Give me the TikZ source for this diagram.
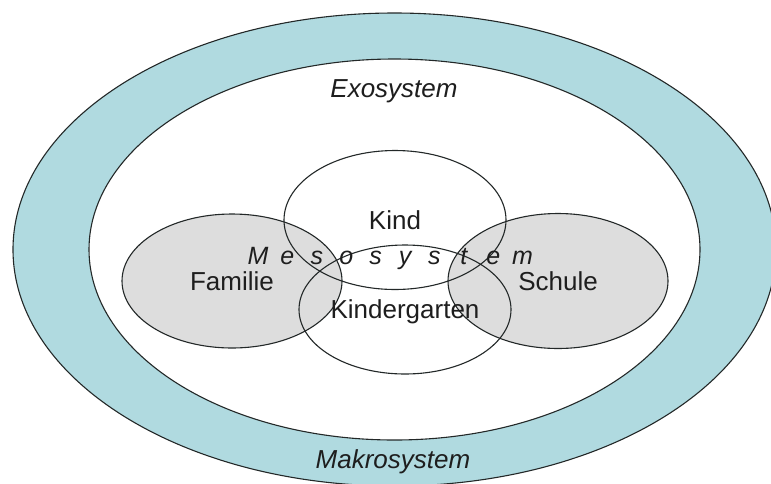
\documentclass[tikz,border=0pt]{standalone}
\usepackage{fontspec}
\setmainfont{Liberation Sans}
\usepackage{tikz}
\usepackage{xcolor}
\usetikzlibrary{shapes.geometric}

\definecolor{ringblue}{RGB}{176,218,224}
\definecolor{setgrey}{RGB}{221,221,221}
\definecolor{linegrey}{RGB}{35,40,40}
\definecolor{textgrey}{RGB}{30,30,30}

\begin{document}
\begin{tikzpicture}[
            x=1pt, y=-1pt,
            system/.style={ellipse, draw=linegrey, line width=1.1pt, inner sep=0pt},
            setbox/.style={ellipse, draw=linegrey, line width=1.1pt, inner sep=0pt, text depth=0pt, text=textgrey, font=\fontsize{26}{30}\selectfont},
            sysname/.style={text=textgrey, inner sep=0pt, font=\fontsize{26}{30}\selectfont\itshape},
            mesoletter/.style={text=textgrey, inner sep=0pt, anchor=base, font=\fontsize{25}{30}\selectfont\itshape}
        ]
            \useasboundingbox (0,0) rectangle (771,483);

            % Makrosystem ring
            \node[system, fill=ringblue, minimum width=763pt, minimum height=473pt] (makro) at (394.5,249.5) {};
            % Exosystem
            \node[system, fill=white, minimum width=611pt, minimum height=381pt] (exo) at (394.5,249.5) {};

            \node[sysname] (exoname) at (394,91) {Exosystem};
            \node[sysname] (makroname) at (393,462) {Makrosystem};

            % Microsystems
            \node[setbox, fill=setgrey, minimum width=220pt, minimum height=134pt] (familie) at (232,281) {Familie};
            \node[setbox, fill=setgrey, minimum width=220pt, minimum height=135pt] (schule) at (558,281) {Schule};
            \node[setbox, minimum width=222pt, minimum height=139pt] (kind) at (395,220) {Kind};
            \node[setbox, minimum width=212pt, minimum height=129pt] (kindergarten) at (405,309.5) {Kindergarten};

            % Mesosystem, letter by letter
            \foreach \ch [count=\i] in {M,e,s,o,s,y,s,t,e,m}
                \node[mesoletter] (meso\i) at (258+29.4*\i-29.4,264) {\ch};

        \end{tikzpicture}
\end{document}
